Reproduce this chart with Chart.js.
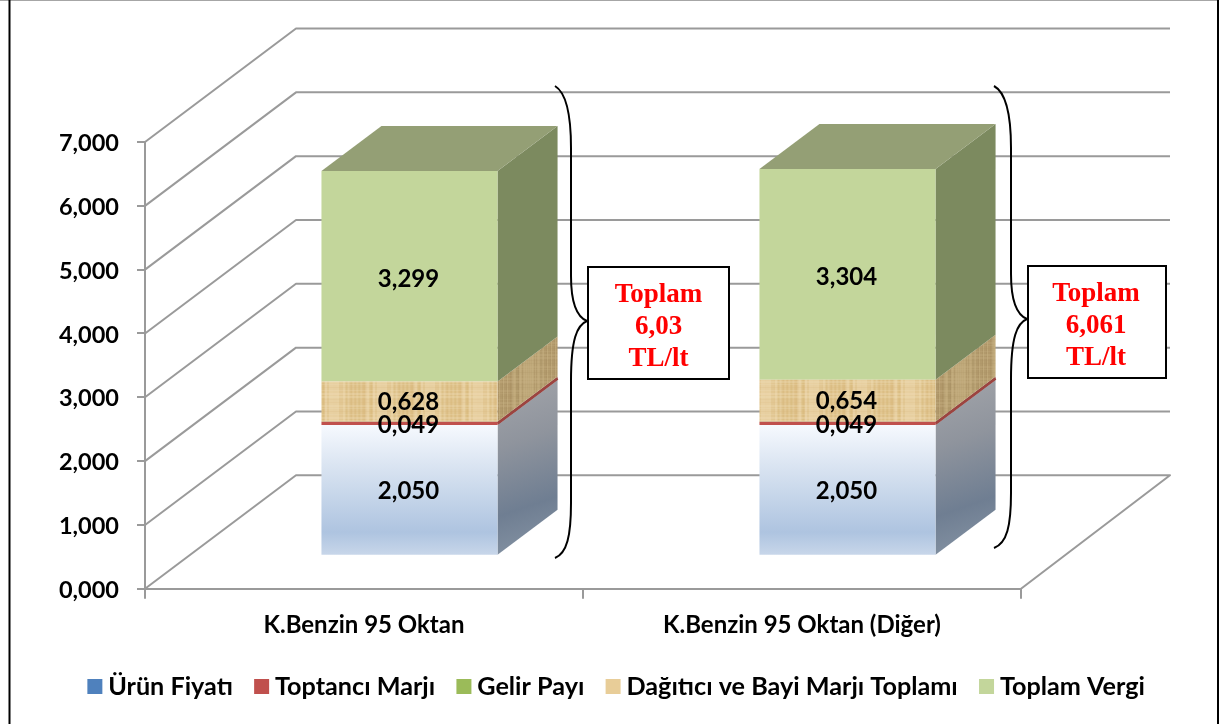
<!DOCTYPE html>
<html>
<head>
<meta charset="utf-8">
<style>html,body{margin:0;padding:0;background:#fff}canvas{display:block}</style>
<script src="https://cdn.jsdelivr.net/npm/chart.js@4/dist/chart.umd.min.js"></script>
</head>
<body>
<canvas id="c" width="1219" height="724"></canvas>
<script>
const categories = ["K.Benzin 95 Oktan", "K.Benzin 95 Oktan (Diğer)"];
const urunFiyati = [2.050, 2.050];
const toptanciMarji = [0.049, 0.049];
const gelirPayi = [0.004, 0.004];
const dagiticiBayi = [0.628, 0.654];
const toplamVergi = [3.299, 3.304];
const seriesNames = ["Ürün Fiyatı", "Toptancı Marjı", "Gelir Payı", "Dağıtıcı ve Bayi Marjı Toplamı", "Toplam Vergi"];
const legendColors = ["#4f81bd", "#c0504d", "#9bbb59", "#e8cd98", "#c3d69b"];
const yTickLabels = ["0,000", "1,000", "2,000", "3,000", "4,000", "5,000", "6,000", "7,000"];
const totalLabels = [["Toplam", "6,03", "TL/lt"], ["Toplam", "6,061", "TL/lt"]];

const FONT = "Lato";
const fmt = v => v.toFixed(3).replace(".", ",");

// Paper-like texture for the dealer margin layer
function texture(shade) {
  const t = document.createElement("canvas");
  t.width = 48; t.height = 24;
  const g = t.getContext("2d");
  g.fillStyle = shade[0]; g.fillRect(0, 0, 48, 24);
  for (let x = 0; x < 48; x += 2) {
    const k = Math.abs(Math.sin(x * 12.9898) * 43758.5453) % 1;
    g.fillStyle = k > 0.5 ? shade[1] : shade[2];
    g.globalAlpha = 0.25 + k * 0.35;
    g.fillRect(x, 0, 1 + (k > 0.7 ? 2 : 0), 24);
  }
  for (let y = 0; y < 24; y += 3) {
    const k = Math.abs(Math.sin(y * 78.233) * 12543.53) % 1;
    g.fillStyle = k > 0.5 ? shade[2] : shade[1];
    g.globalAlpha = 0.12 + k * 0.2;
    g.fillRect(0, y, 48, 1 + (k > 0.6 ? 1 : 0));
  }
  g.globalAlpha = 1;
  return t;
}
const frontTex = texture(["#e6cd9c", "#d6b678", "#f2e0bb"]);
const sideTex = texture(["#bda677", "#a88f62", "#c9b386"]);

function blueFront(ctx) {
  const { chart } = ctx;
  if (!chart.chartArea) return "#b8cce4";
  const y = chart.scales.y;
  const g = chart.ctx.createLinearGradient(0, y.getPixelForValue(urunFiyati[0]), 0, y.getPixelForValue(0));
  g.addColorStop(0, "#f6f9fe");
  g.addColorStop(0.3, "#dbe5f2");
  g.addColorStop(0.82, "#aec4e0");
  g.addColorStop(1, "#c9d7ea");
  return g;
}
function tanFront(ctx) {
  return ctx.chart.ctx.createPattern(frontTex, "repeat");
}

// 3D geometry of the plot box
const WALL_DX = 151, WALL_DY = -113.5, BAR_DX = 45.5, BAR_DY = -33, SIDE_DX = 60, SIDE_DY = -45;

const plot3d = {
  id: "plot3d",
  beforeDraw(chart) {
    const c = chart.ctx;
    c.save();
    c.fillStyle = "#fff"; c.fillRect(0, 0, chart.width, chart.height);
    c.strokeStyle = "#a6a6a6"; c.lineWidth = 2;
    c.beginPath(); c.moveTo(0, 0); c.lineTo(chart.width, 0); c.stroke();
    c.strokeStyle = "#000"; c.lineWidth = 2;
    c.beginPath(); c.moveTo(9.5, 0); c.lineTo(9.5, chart.height); c.moveTo(1218, 0); c.lineTo(1218, chart.height); c.stroke();
    c.restore();
  },
  beforeDatasetsDraw(chart) {
    const c = chart.ctx, { x, y } = chart.scales;
    const L = x.left, R = x.right;
    c.save();
    c.strokeStyle = "#9a9a9a"; c.lineWidth = 2; c.lineJoin = "round";
    yTickLabels.forEach((_, i) => {
      const py = y.getPixelForValue(i);
      c.beginPath();
      c.moveTo(L, py);
      c.lineTo(L + WALL_DX, py + WALL_DY);
      c.lineTo(R + WALL_DX - 2, py + WALL_DY);
      if (i === 0) c.lineTo(R, py);
      c.stroke();
    });
    // Side and top faces of the columns
    chart.data.datasets.forEach((ds, di) => {
      chart.getDatasetMeta(di).data.forEach(el => {
        const xr = el.x + el.width / 2 + BAR_DX, xl = el.x - el.width / 2 + BAR_DX;
        const yt = el.y + BAR_DY, yb = el.base + BAR_DY;
        c.beginPath();
        c.moveTo(xr, yt); c.lineTo(xr + SIDE_DX, yt + SIDE_DY);
        c.lineTo(xr + SIDE_DX, yb + SIDE_DY); c.lineTo(xr, yb); c.closePath();
        if (di === 0) {
          const g = c.createLinearGradient(xr, yt + SIDE_DY, xr + SIDE_DX, yb);
          g.addColorStop(0, "#a3a5aa"); g.addColorStop(0.35, "#8f949d");
          g.addColorStop(0.7, "#6f7e92"); g.addColorStop(1, "#8896a6");
          c.fillStyle = g;
        } else if (di === 1) c.fillStyle = "#9c4440";
        else if (di === 2) c.fillStyle = "#7a8c50";
        else if (di === 3) c.fillStyle = c.createPattern(sideTex, "repeat");
        else c.fillStyle = "#7c8a5f";
        c.fill();
        if (di === chart.data.datasets.length - 1) {
          c.beginPath();
          c.moveTo(xl, yt); c.lineTo(xl + SIDE_DX, yt + SIDE_DY);
          c.lineTo(xr + SIDE_DX, yt + SIDE_DY); c.lineTo(xr, yt); c.closePath();
          c.fillStyle = "#949f75"; c.fill();
        }
      });
    });
    // Red layer's side edge is drawn again so it stays visible over its neighbours
    chart.getDatasetMeta(1).data.forEach(el => {
      const xr = el.x + el.width / 2 + BAR_DX, ym = (el.y + el.base) / 2 + BAR_DY;
      c.strokeStyle = "#9c4440"; c.lineWidth = 2.5; c.lineJoin = "miter";
      c.beginPath(); c.moveTo(xr, ym); c.lineTo(xr + SIDE_DX, ym + SIDE_DY); c.stroke();
    });
    c.restore();
    c.save();
    c.translate(BAR_DX, BAR_DY);
  },
  afterDatasetsDraw(chart) {
    const c = chart.ctx;
    c.fillStyle = "#000";
    c.font = "700 24px " + FONT;
    c.textAlign = "center"; c.textBaseline = "middle";
    chart.data.datasets.forEach((ds, di) => {
      chart.getDatasetMeta(di).data.forEach((el, i) => {
        const v = ds.data[i];
        if (v < 0.01) return;
        const nudge = di === 4 ? 3 : di === 1 ? 2 : 1;
        c.fillText(fmt(v), el.x - 1, (el.y + el.base) / 2 + nudge);
      });
    });
    c.restore();

    // Curly brackets and total boxes
    c.save();
    const brace = (x0, xm, xa, top, ya, bot) => {
      c.strokeStyle = "#000"; c.lineWidth = 2;
      c.beginPath();
      c.moveTo(x0, top);
      c.bezierCurveTo(xm - 6, top + 6, xm, top + 25, xm, top + 62);
      c.lineTo(xm, ya - 45);
      c.bezierCurveTo(xm, ya - 18, xm + 6, ya - 4, xa, ya);
      c.bezierCurveTo(xm + 6, ya + 4, xm, ya + 18, xm, ya + 60);
      c.lineTo(xm, bot - 55);
      c.bezierCurveTo(xm, bot - 22, xm - 4, bot - 5, x0, bot);
      c.stroke();
    };
    brace(555, 571, 587, 86, 321, 558);
    brace(994, 1011, 1027, 86, 319, 548);
    const boxes = [[588, 267, 141, 112], [1028, 266, 138, 112]];
    boxes.forEach((b, i) => {
      c.fillStyle = "#fff"; c.strokeStyle = "#000"; c.lineWidth = 2;
      c.fillRect(b[0], b[1], b[2], b[3]);
      c.strokeRect(b[0], b[1], b[2], b[3]);
      c.fillStyle = "#ff0000";
      c.font = "700 27px 'Liberation Serif'";
      c.textAlign = "center"; c.textBaseline = "middle";
      totalLabels[i].forEach((t, k) => c.fillText(t, b[0] + b[2] / 2 + (i ? -1 : 0), b[1] + 28 + k * 32));
    });
    c.restore();
  }
};

const series = [urunFiyati, toptanciMarji, gelirPayi, dagiticiBayi, toplamVergi];
const fronts = [blueFront, "#c0504d", "#9bbb59", tanFront, "#c3d69b"];

new Chart(document.getElementById("c"), {
  type: "bar",
  data: {
    labels: categories,
    datasets: series.map((d, i) => ({
      label: seriesNames[i],
      data: d,
      backgroundColor: fronts[i],
      borderWidth: 0,
      barPercentage: 0.402,
      categoryPercentage: 1
    }))
  },
  options: {
    responsive: false,
    animation: false,
    layout: { padding: { left: 20, top: 142, right: 0, bottom: 15 } },
    scales: {
      x: {
        stacked: true,
        offset: true,
        afterFit: s => { s.height = 57; },
        grid: { offset: true, drawOnChartArea: false, drawTicks: true, tickLength: 10, color: "#9a9a9a", lineWidth: 2 },
        border: { color: "#9a9a9a", width: 2 },
        ticks: { autoSkip: false, maxRotation: 0, padding: 12, color: "#000", font: { family: FONT, weight: "700", size: 24 } }
      },
      y: {
        stacked: true,
        min: 0, max: 7,
        afterFit: s => { s.width = 125; },
        grid: { drawOnChartArea: false, drawTicks: true, tickLength: 8, color: "#9a9a9a", lineWidth: 2 },
        border: { color: "#9a9a9a", width: 2 },
        ticks: { stepSize: 1, padding: 18, labelOffset: 1.5, color: "#000", font: { family: FONT, weight: "700", size: 23.5 },
                 callback: (v, i) => yTickLabels[i] }
      },
      pad: {
        type: "linear", position: "right", display: true,
        afterFit: s => { s.width = 198; },
        grid: { display: false, drawTicks: false }, border: { display: false }, ticks: { display: false }
      }
    },
    plugins: {
      tooltip: { enabled: false },
      legend: {
        position: "bottom",
        labels: {
          boxWidth: 1.5, boxHeight: 1.5, padding: 28, color: "#000",
          font: { family: FONT, weight: "700", size: 25.2, lineHeight: 0.95 },
          generateLabels: () => seriesNames.map((t, i) => ({ text: t, fillStyle: legendColors[i], strokeStyle: legendColors[i], lineWidth: 13.5, datasetIndex: i, fontColor: "#000" }))
        }
      }
    }
  },
  plugins: [plot3d]
});
</script>
</body>
</html>
